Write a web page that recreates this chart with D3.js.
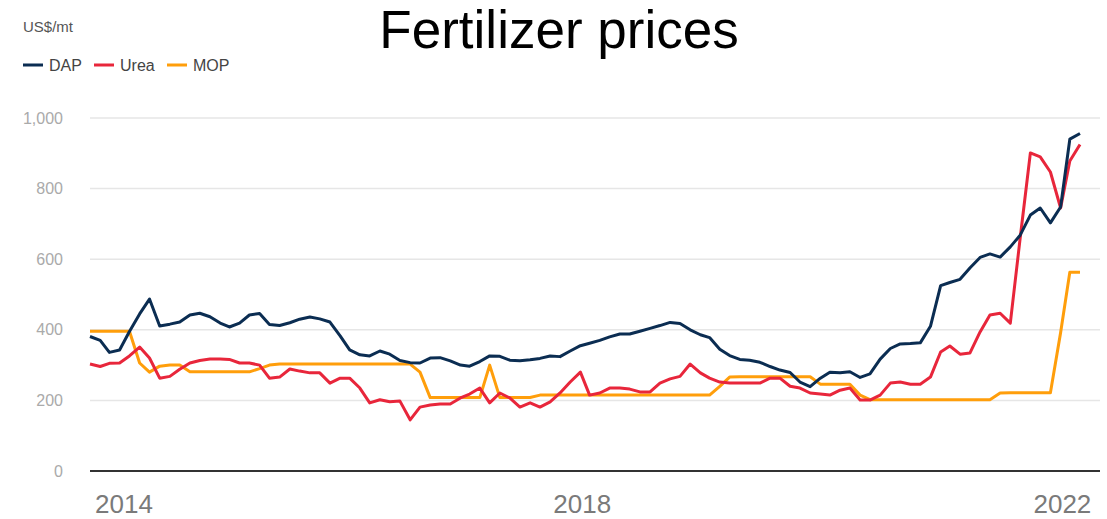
<!DOCTYPE html>
<html>
<head>
<meta charset="utf-8">
<script src="https://cdn.jsdelivr.net/npm/d3@7"></script>
<style>
  body { margin: 0; background: #fff; }
  svg { font-family: "Liberation Sans", Arial, sans-serif; display: block; }
  .grid line { stroke: #e6e6e6; stroke-width: 1.5; }
  .ylab { fill: #aaa; font-size: 16px; }
  .xlab { fill: #7a7a7a; font-size: 26px; }
  .leg { fill: #444; font-size: 16px; }
</style>
</head>
<body>
<svg id="chart" width="1107" height="519"></svg>
<script>
// monthly, Jan 2014 .. Apr 2022
const firstMonth = new Date(2014, 0, 1);
const lastMonth = new Date(2022, 3, 1);

const dap = [
    381, 370, 336, 343, 395, 445, 487, 411, 416, 422,
    442, 447, 437, 419, 408, 419, 442, 446, 415, 412,
    420, 430, 436, 431, 422, 383, 343, 329, 326, 340,
    331, 313, 307, 306, 320, 321, 312, 300, 297, 310,
    326, 325, 314, 312, 315, 319, 326, 324, 340, 355,
    362, 370, 380, 388, 388, 396, 404, 412, 421, 418,
    400, 386, 378, 345, 327, 316, 314, 308, 296, 286,
    279, 252, 239, 263, 280, 278, 281, 265, 275, 317,
    347, 360, 361, 363, 410, 525, 534, 543, 575, 605,
    615, 606, 635, 668, 725, 745, 703, 748, 940, 956
];

const urea = [
    303, 296, 305, 306, 326, 351, 320, 263, 268, 288,
    306, 313, 317, 317, 316, 306, 306, 300, 263, 266,
    289, 283, 278, 278, 249, 263, 263, 235, 193, 202,
    196, 198, 145, 181, 187, 190, 190, 207, 218, 235,
    193, 221, 207, 181, 193, 181, 196, 221, 252, 280,
    215, 221, 235, 235, 232, 224, 224, 249, 261, 268,
    303, 278, 263, 252, 249, 249, 249, 249, 263, 263,
    240, 235, 221, 218, 215, 229, 235, 201, 201, 215,
    249, 252, 246, 246, 266, 337, 354, 331, 334, 394,
    442, 447, 419, 660, 901, 890, 847, 745, 878, 925
];

const mop = [
    396, 396, 396, 396, 396, 306, 280, 297, 300, 300,
    281, 281, 281, 281, 281, 281, 281, 290, 300, 303,
    303, 303, 303, 303, 303, 303, 303, 303, 303, 303,
    303, 303, 303, 280, 208, 208, 208, 208, 208, 208,
    300, 208, 208, 208, 208, 215, 215, 215, 215, 215,
    215, 215, 215, 215, 215, 215, 215, 215, 215, 215,
    215, 215, 215, 240, 266, 267, 267, 267, 267, 267,
    267, 267, 267, 246, 246, 246, 246, 215, 202, 202,
    202, 202, 202, 202, 202, 202, 202, 202, 202, 202,
    202, 221, 222, 222, 222, 222, 222, 392, 563, 563
];

const seriesNames = ["DAP", "Urea", "MOP"];
const seriesColors = ["#0b2d52", "#e8263b", "#ff9e0b"];
const yTicks = [0, 200, 400, 600, 800, 1000];
const xYears = [2014, 2018, 2022];

const months = d3.timeMonth.range(firstMonth, d3.timeMonth.offset(lastMonth, 1));
const allSeries = [dap, urea, mop];

const svg = d3.select("#chart");

const x = d3.scaleTime()
    .domain([firstMonth, lastMonth])
    .range([90, 1080]);
const y = d3.scaleLinear()
    .domain([0, 1000])
    .range([471, 118]);

// gridlines
svg.append("g")
    .attr("class", "grid")
    .selectAll("line")
    .data(yTicks.filter(d => d > 0))
    .join("line")
    .attr("x1", 90)
    .attr("x2", 1100)
    .attr("y1", d => y(d))
    .attr("y2", d => y(d));

svg.append("g")
    .selectAll("text")
    .data(yTicks)
    .join("text")
    .attr("class", "ylab")
    .attr("x", 63)
    .attr("y", d => y(d))
    .attr("dy", "0.35em")
    .attr("text-anchor", "end")
    .text(d => d3.format(",")(d));

// lines
const line = d3.line()
    .x((d, i) => x(months[i]))
    .y(d => y(d));

// draw MOP first, then urea, DAP on top
[2, 1, 0].forEach(k => {
    svg.append("path")
        .attr("d", line(allSeries[k]))
        .attr("fill", "none")
        .attr("stroke", seriesColors[k])
        .attr("stroke-width", 3)
        .attr("stroke-linejoin", "round");
});

// baseline
svg.append("line")
    .attr("x1", 90)
    .attr("x2", 1100)
    .attr("y1", y(0))
    .attr("y2", y(0))
    .attr("stroke", "#333")
    .attr("stroke-width", 2);

// year labels
xYears.forEach((yr, i) => {
    const xp = x(new Date(yr, 0, 1));
    svg.append("text")
        .attr("class", "xlab")
        .attr("x", i == 0 ? xp + 5 : xp + 12)
        .attr("y", 513)
        .attr("text-anchor", i == 0 ? "start" : "middle")
        .text(yr);
});

// title and unit
svg.append("text")
    .attr("x", 559)
    .attr("y", 48)
    .attr("text-anchor", "middle")
    .attr("font-size", 53)
    .attr("fill", "#000")
    .text("Fertilizer prices");

svg.append("text")
    .attr("x", 23)
    .attr("y", 32)
    .attr("font-size", 15)
    .attr("fill", "#555")
    .text("US$/mt");

// legend
const legX = [23, 94, 167];
seriesNames.forEach((name, i) => {
    svg.append("line")
        .attr("x1", legX[i])
        .attr("x2", legX[i] + 20)
        .attr("y1", 65)
        .attr("y2", 65)
        .attr("stroke", seriesColors[i])
        .attr("stroke-width", 3);
    svg.append("text")
        .attr("class", "leg")
        .attr("x", legX[i] + 26)
        .attr("y", 71)
        .text(name);
});
</script>
</body>
</html>
